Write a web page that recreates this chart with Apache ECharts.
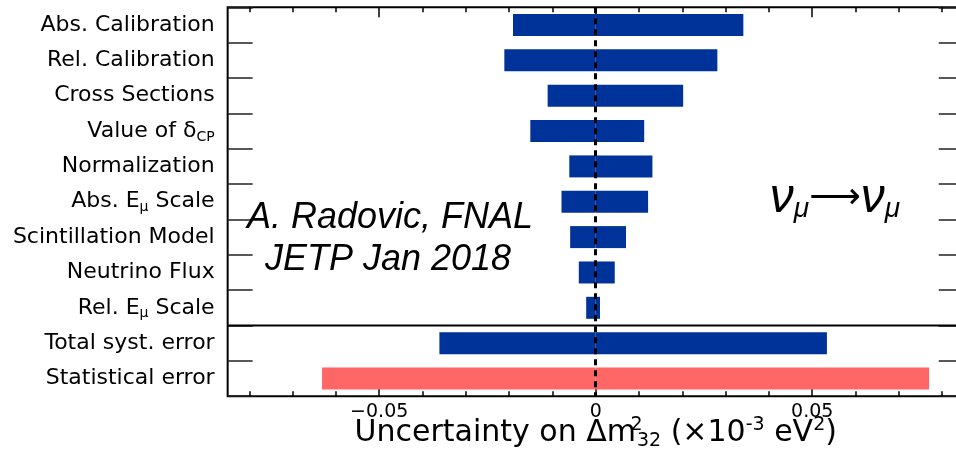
<!DOCTYPE html>
<html><head><meta charset="utf-8">
<script src="https://cdn.jsdelivr.net/npm/echarts@6/dist/echarts.min.js"></script>
<style>html,body{margin:0;padding:0;background:#fff;overflow:hidden}#c{width:956px;height:449px}</style>
</head><body><div id="c"></div>
<script>
// ---- data ----
const categories = ["Abs. Calibration","Rel. Calibration","Cross Sections","Value of δCP","Normalization","Abs. Eμ Scale","Scintillation Model","Neutrino Flux","Rel. Eμ Scale","Total syst. error","Statistical error"];
const categoryLabels = ["Abs. Calibration","Rel. Calibration","Cross Sections","Value of {d|δ}{sub|CP}","Normalization","Abs. E{sub|μ} Scale","Scintillation Model","Neutrino Flux","Rel. E{sub|μ} Scale","Total syst. error","Statistical error"];
const lowValues  = [-0.0191,-0.0211,-0.0111,-0.0151,-0.0061,-0.0079,-0.0059,-0.0039,-0.0022,-0.0361,-0.0632];
const highValues = [ 0.0341, 0.0281, 0.0202, 0.0112, 0.0131, 0.0121, 0.0070, 0.0044, 0.0010, 0.0534, 0.0770];
const tickLabels = [-0.05, 0, 0.05];

// ---- layout ----
const X0 = 595.7, PX = 4330;           // pixel of zero, pixels per unit
const TOP = 7.3, H = 388.9;
const FULL = 0.085, MINOR = 0.08, MAJOR = 0.05;
const BLUE = '#003399', RED = '#ff6666';
const LF = 'DejaVu Sans';

const chart = echarts.init(document.getElementById('c'));
function gridFor(half){ return {left: X0 - half*PX, width: 2*half*PX, top: TOP, height: H, containLabel:false, outerBoundsMode:'none'}; }
const g0 = gridFor(FULL); g0.show = true; g0.borderColor = '#000'; g0.borderWidth = 2; g0.backgroundColor='transparent';

const colorFn = p => (categories[p.dataIndex] === 'Statistical error' ? RED : BLUE);
const tickStyle = {color:'#000', width:1.5};
const noLine = {show:false, onZero:false};

const option = {
  animation: false,
  backgroundColor: '#fff',
  grid: [g0, gridFor(MINOR), gridFor(MAJOR)],
  xAxis: [
    {gridIndex:0, type:'value', min:-FULL, max:FULL, show:false, axisLine:noLine},
    {gridIndex:1, type:'value', position:'bottom', min:-MINOR, max:MINOR, interval:0.01,
     axisLine:noLine, splitLine:{show:false}, axisLabel:{show:false},
     axisTick:{show:true, inside:true, length:5, lineStyle:tickStyle},
     name:'Uncertainty on \u0394m{sup|2}{sub|32} (\u00d710{sup2|-3} eV{sup2|2})',
     nameLocation:'middle', nameGap:19,
     nameTextStyle:{fontFamily:LF, fontSize:30, color:'#000',
       rich:{
         sup:{fontFamily:LF, fontSize:19, color:'#000', padding:[0,0,17,0], width:1},
         sup2:{fontFamily:LF, fontSize:19, color:'#000', padding:[0,0,17,0]},
         sub:{fontFamily:LF, fontSize:19, color:'#000', padding:[15,0,0,0]}
       }}},
    {gridIndex:1, type:'value', position:'top', min:-MINOR, max:MINOR, interval:0.01,
     axisLine:noLine, splitLine:{show:false}, axisLabel:{show:false},
     axisTick:{show:true, inside:true, length:5, lineStyle:tickStyle}},
    {gridIndex:2, type:'value', position:'bottom', min:-MAJOR, max:MAJOR, interval:0.05,
     axisLine:noLine, splitLine:{show:false},
     axisTick:{show:true, inside:true, length:10, lineStyle:tickStyle},
     axisLabel:{show:true, margin:6, fontFamily:LF, fontSize:19, color:'#000',
       formatter: v => { const t = tickLabels.find(x => Math.abs(x - v) < 1e-9); if (t === undefined) return ''; return t < 0 ? '\u2212' + Math.abs(t) : String(t); }}},
    {gridIndex:2, type:'value', position:'top', min:-MAJOR, max:MAJOR, interval:0.05,
     axisLine:noLine, splitLine:{show:false}, axisLabel:{show:false},
     axisTick:{show:true, inside:true, length:10, lineStyle:tickStyle}}
  ],
  yAxis: [
    {gridIndex:0, type:'category', inverse:true, data:categories, position:'left',
     axisLine:noLine, splitLine:{show:false},
     axisTick:{show:true, inside:true, length:25, lineStyle:{color:'#222', width:1.5}},
     axisLabel:{margin:13, fontFamily:LF, fontSize:22, color:'#000',
       formatter:(v, i) => categoryLabels[i],
       rich:{
         d:{fontFamily:LF, fontSize:22, color:'#000'},
         sub:{fontFamily:LF, fontSize:14, color:'#000', padding:[12,0,0,0]}
       }}},
    {gridIndex:0, type:'category', inverse:true, data:categories, position:'right',
     axisLine:noLine, splitLine:{show:false}, axisLabel:{show:false},
     axisTick:{show:true, inside:true, length:25, lineStyle:{color:'#222', width:1.5}}},
    {gridIndex:1, type:'value', show:false, axisLine:noLine},
    {gridIndex:2, type:'value', show:false, axisLine:noLine}
  ],
  series: [
    {name:'low', type:'bar', xAxisIndex:0, yAxisIndex:0, data:lowValues, barWidth:22, barGap:'-100%', z:2,
     itemStyle:{color:colorFn}},
    {name:'high', type:'bar', xAxisIndex:0, yAxisIndex:0, data:highValues, barWidth:22, barGap:'-100%', z:2,
     itemStyle:{color:colorFn}},
    {name:'zero', type:'line', xAxisIndex:0, yAxisIndex:0, data:[], z:5,
     markLine:{silent:true, symbol:['none','none'], label:{show:false},
       lineStyle:{color:'#000', width:3, type:[6,5]}, data:[{xAxis:0}]}}
  ]
};
chart.setOption(option);

// separator between individual systematics and totals: boundary between rows 9 and 10
const yA = chart.convertToPixel({yAxisIndex:0}, categories[8]);
const yB = chart.convertToPixel({yAxisIndex:0}, categories[9]);
const ySep = (yA + yB) / 2;
const xl = X0 - FULL*PX, xr = X0 + FULL*PX;
chart.setOption({
  graphic: [
    {type:'line', shape:{x1:xl, y1:ySep, x2:xr, y2:ySep}, style:{stroke:'#000', lineWidth:2}, z:10},
    {type:'text', x:390, y:217.5, style:{text:'A. Radovic, FNAL', font:'italic 36px "Liberation Sans"', fill:'#000', textAlign:'center', textVerticalAlign:'middle'}, z:10},
    {type:'text', x:388, y:260, style:{text:'JETP Jan 2018', font:'italic 36px "Liberation Sans"', fill:'#000', textAlign:'center', textVerticalAlign:'middle'}, z:10},
    {type:'text', x:835, y:199, z:10, style:{
      text:'{nu|\u03bd}{mu|\u03bc}{arr|\u27f6}{nu|\u03bd}{mu|\u03bc}', textAlign:'center', textVerticalAlign:'middle',
      rich:{
        nu:{fontFamily:'Liberation Sans', fontStyle:'italic', fontSize:48, fill:'#000', color:'#000'},
        mu:{fontFamily:'Liberation Sans', fontStyle:'italic', fontSize:28, fill:'#000', color:'#000', padding:[20,0,0,0]},
        arr:{fontFamily:'DejaVu Sans', fontSize:36, fill:'#000', color:'#000'}
      }}}
  ]
});
</script></body></html>
